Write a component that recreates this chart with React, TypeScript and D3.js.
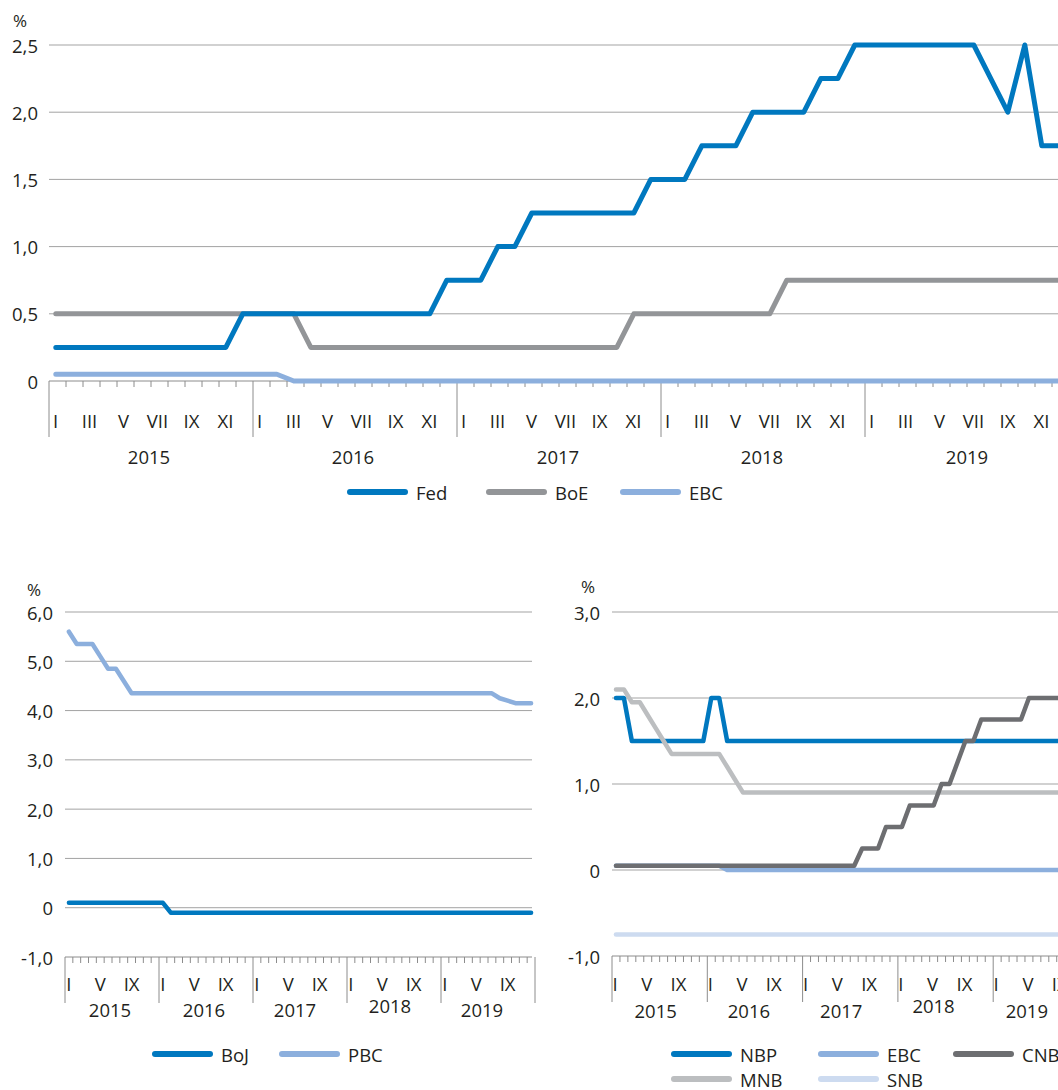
import React from "react";
import * as d3 from "d3";

// ---------- DATA ----------
const years = ["2015", "2016", "2017", "2018", "2019"];
const topMonthLabels = ["I", "", "III", "", "V", "", "VII", "", "IX", "", "XI", ""];
const smallMonthLabels = ["I", "", "", "", "V", "", "", "", "IX", "", "", ""];

const topTicks = [0, 0.5, 1.0, 1.5, 2.0, 2.5];
const leftTicks = [-1, 0, 1, 2, 3, 4, 5, 6];
const rightTicks = [-1, 0, 1, 2, 3];

// monthly values, I 2015 - XII 2019
const fed = [
  0.25, 0.25, 0.25, 0.25, 0.25, 0.25, 0.25, 0.25, 0.25, 0.25, 0.25, 0.5,
  0.5, 0.5, 0.5, 0.5, 0.5, 0.5, 0.5, 0.5, 0.5, 0.5, 0.5, 0.75,
  0.75, 0.75, 1.0, 1.0, 1.25, 1.25, 1.25, 1.25, 1.25, 1.25, 1.25, 1.5,
  1.5, 1.5, 1.75, 1.75, 1.75, 2.0, 2.0, 2.0, 2.0, 2.25, 2.25, 2.5,
  2.5, 2.5, 2.5, 2.5, 2.5, 2.5, 2.5, 2.25, 2.0, 2.5, 1.75, 1.75,
];
const boe = [
  0.5, 0.5, 0.5, 0.5, 0.5, 0.5, 0.5, 0.5, 0.5, 0.5, 0.5, 0.5,
  0.5, 0.5, 0.5, 0.25, 0.25, 0.25, 0.25, 0.25, 0.25, 0.25, 0.25, 0.25,
  0.25, 0.25, 0.25, 0.25, 0.25, 0.25, 0.25, 0.25, 0.25, 0.25, 0.5, 0.5,
  0.5, 0.5, 0.5, 0.5, 0.5, 0.5, 0.5, 0.75, 0.75, 0.75, 0.75, 0.75,
  0.75, 0.75, 0.75, 0.75, 0.75, 0.75, 0.75, 0.75, 0.75, 0.75, 0.75, 0.75,
];
const ebc = [
  0.05, 0.05, 0.05, 0.05, 0.05, 0.05, 0.05, 0.05, 0.05, 0.05, 0.05, 0.05,
  0.05, 0.05, 0, 0, 0, 0, 0, 0, 0, 0, 0, 0,
  0, 0, 0, 0, 0, 0, 0, 0, 0, 0, 0, 0,
  0, 0, 0, 0, 0, 0, 0, 0, 0, 0, 0, 0,
  0, 0, 0, 0, 0, 0, 0, 0, 0, 0, 0, 0,
];
const boj = [
  0.1, 0.1, 0.1, 0.1, 0.1, 0.1, 0.1, 0.1, 0.1, 0.1, 0.1, 0.1,
  0.1, -0.1, -0.1, -0.1, -0.1, -0.1, -0.1, -0.1, -0.1, -0.1, -0.1, -0.1,
  -0.1, -0.1, -0.1, -0.1, -0.1, -0.1, -0.1, -0.1, -0.1, -0.1, -0.1, -0.1,
  -0.1, -0.1, -0.1, -0.1, -0.1, -0.1, -0.1, -0.1, -0.1, -0.1, -0.1, -0.1,
  -0.1, -0.1, -0.1, -0.1, -0.1, -0.1, -0.1, -0.1, -0.1, -0.1, -0.1, -0.1,
];
const pbc = [
  5.6, 5.35, 5.35, 5.35, 5.1, 4.85, 4.85, 4.6, 4.35, 4.35, 4.35, 4.35,
  4.35, 4.35, 4.35, 4.35, 4.35, 4.35, 4.35, 4.35, 4.35, 4.35, 4.35, 4.35,
  4.35, 4.35, 4.35, 4.35, 4.35, 4.35, 4.35, 4.35, 4.35, 4.35, 4.35, 4.35,
  4.35, 4.35, 4.35, 4.35, 4.35, 4.35, 4.35, 4.35, 4.35, 4.35, 4.35, 4.35,
  4.35, 4.35, 4.35, 4.35, 4.35, 4.35, 4.35, 4.25, 4.2, 4.15, 4.15, 4.15,
];
const nbp = [
  2.0, 2.0, 1.5, 1.5, 1.5, 1.5, 1.5, 1.5, 1.5, 1.5, 1.5, 1.5,
  2.0, 2.0, 1.5, 1.5, 1.5, 1.5, 1.5, 1.5, 1.5, 1.5, 1.5, 1.5,
  1.5, 1.5, 1.5, 1.5, 1.5, 1.5, 1.5, 1.5, 1.5, 1.5, 1.5, 1.5,
  1.5, 1.5, 1.5, 1.5, 1.5, 1.5, 1.5, 1.5, 1.5, 1.5, 1.5, 1.5,
  1.5, 1.5, 1.5, 1.5, 1.5, 1.5, 1.5, 1.5, 1.5, 1.5, 1.5, 1.5,
];
const ebc2 = [
  0.05, 0.05, 0.05, 0.05, 0.05, 0.05, 0.05, 0.05, 0.05, 0.05, 0.05, 0.05,
  0.05, 0.05, 0, 0, 0, 0, 0, 0, 0, 0, 0, 0,
  0, 0, 0, 0, 0, 0, 0, 0, 0, 0, 0, 0,
  0, 0, 0, 0, 0, 0, 0, 0, 0, 0, 0, 0,
  0, 0, 0, 0, 0, 0, 0, 0, 0, 0, 0, 0,
];
const cnb = [
  0.05, 0.05, 0.05, 0.05, 0.05, 0.05, 0.05, 0.05, 0.05, 0.05, 0.05, 0.05,
  0.05, 0.05, 0.05, 0.05, 0.05, 0.05, 0.05, 0.05, 0.05, 0.05, 0.05, 0.05,
  0.05, 0.05, 0.05, 0.05, 0.05, 0.05, 0.05, 0.25, 0.25, 0.25, 0.5, 0.5,
  0.5, 0.75, 0.75, 0.75, 0.75, 1.0, 1.0, 1.25, 1.5, 1.5, 1.75, 1.75,
  1.75, 1.75, 1.75, 1.75, 2.0, 2.0, 2.0, 2.0, 2.0, 2.0, 2.0, 2.0,
];
const mnb = [
  2.1, 2.1, 1.95, 1.95, 1.8, 1.65, 1.5, 1.35, 1.35, 1.35, 1.35, 1.35,
  1.35, 1.35, 1.2, 1.05, 0.9, 0.9, 0.9, 0.9, 0.9, 0.9, 0.9, 0.9,
  0.9, 0.9, 0.9, 0.9, 0.9, 0.9, 0.9, 0.9, 0.9, 0.9, 0.9, 0.9,
  0.9, 0.9, 0.9, 0.9, 0.9, 0.9, 0.9, 0.9, 0.9, 0.9, 0.9, 0.9,
  0.9, 0.9, 0.9, 0.9, 0.9, 0.9, 0.9, 0.9, 0.9, 0.9, 0.9, 0.9,
];
const snb = [
  -0.75, -0.75, -0.75, -0.75, -0.75, -0.75, -0.75, -0.75, -0.75, -0.75, -0.75, -0.75,
  -0.75, -0.75, -0.75, -0.75, -0.75, -0.75, -0.75, -0.75, -0.75, -0.75, -0.75, -0.75,
  -0.75, -0.75, -0.75, -0.75, -0.75, -0.75, -0.75, -0.75, -0.75, -0.75, -0.75, -0.75,
  -0.75, -0.75, -0.75, -0.75, -0.75, -0.75, -0.75, -0.75, -0.75, -0.75, -0.75, -0.75,
  -0.75, -0.75, -0.75, -0.75, -0.75, -0.75, -0.75, -0.75, -0.75, -0.75, -0.75, -0.75,
];

// ---------- STYLE ----------
const C = {
  blue: "#0078bf",
  grey: "#939598",
  light: "#8cafdd",
  dark: "#6d6e71",
  lgrey: "#bcbec0",
  pale: "#cddbf0",
  grid: "#a3a3a3",
  axis: "#8c8c8c",
  text: "#231f20",
};
const FONT = "'Open Sans', 'Noto Sans', sans-serif";

const fmt = (v: number) =>
  v === 0 ? "0" : d3.format(".1f")(v).replace(".", ",").replace("\u2212", "-");

type Series = { name: string; values: number[]; color: string; width: number };

function Panel(props: {
  x0: number; x1: number; gridRight: number;
  yDomain: [number, number]; yRange: [number, number];
  ticks: number[]; labelX: number; pct: [number, number];
  axisVal: number; minorLen: number; majorLen: number;
  monthLabels: string[]; monthY: number; yearY: number; yearYOverride?: Record<number, number>;
  pointOffset: number; labelShift: number; yearShift: number[]; series: Series[];
}) {
  const p = props;
  const x = d3.scaleLinear().domain([0, 60]).range([p.x0, p.x1]);
  const y = d3.scaleLinear().domain(p.yDomain).range(p.yRange);
  const line = d3
    .line<number>()
    .x((_, i) => x(i + p.pointOffset))
    .y((d) => y(d))
    .curve(d3.curveLinear);
  const ay = y(p.axisVal);
  return (
    <g>
      <text x={p.pct[0]} y={p.pct[1]} fontSize={17} textAnchor="middle" dominantBaseline="central" fill={C.text}>%</text>
      {p.ticks.map((t) => (
        <g key={t}>
          {t !== p.axisVal && (
            <line x1={p.x0} x2={p.gridRight} y1={y(t)} y2={y(t)} stroke={C.grid} strokeWidth={1} />
          )}
          <text x={p.labelX} y={y(t)} fontSize={18.5} textAnchor="end" dominantBaseline="central" fill={C.text}>
            {fmt(t)}
          </text>
        </g>
      ))}
      {d3.range(61).map((m) => (
        <line key={m} x1={x(m)} x2={x(m)} y1={ay} y2={ay + (m % 12 === 0 ? p.majorLen : p.minorLen)} stroke={C.axis} strokeWidth={1} />
      ))}
      <line x1={p.x0} x2={p.gridRight} y1={ay} y2={ay} stroke={C.axis} strokeWidth={1} />
      {d3.range(60).map((m) =>
        p.monthLabels[m % 12] ? (
          <text key={"m" + m} x={x(m + 0.5) + p.labelShift} y={p.monthY} fontSize={18.5} textAnchor="middle" dominantBaseline="central" fill={C.text}>
            {p.monthLabels[m % 12]}
          </text>
        ) : null
      )}
      {years.map((yr, i) => (
        <text key={yr} x={x(i * 12 + 6) + p.yearShift[i]} y={p.yearYOverride && p.yearYOverride[i] ? p.yearYOverride[i] : p.yearY} fontSize={18.5} textAnchor="middle" dominantBaseline="central" fill={C.text}>
          {yr}
        </text>
      ))}
      {p.series.map((s) => (
        <path key={s.name} d={line(s.values) || ""} fill="none" stroke={s.color} strokeWidth={s.width} strokeLinejoin="round" strokeLinecap="round" />
      ))}
    </g>
  );
}

function Legend({ items }: { items: { name: string; color: string; x: number; y: number }[] }) {
  return (
    <g>
      {items.map((it) => (
        <g key={it.name + it.x + it.y}>
          <line x1={it.x} x2={it.x + 55} y1={it.y} y2={it.y} stroke={it.color} strokeWidth={6} strokeLinecap="round" />
          <text x={it.x + 66} y={it.y} fontSize={18.5} dominantBaseline="central" fill={C.text}>{it.name}</text>
        </g>
      ))}
    </g>
  );
}

export default function App() {
  return (
    <svg width={1058} height={1090} style={{ position: "absolute", left: 0, top: 0, display: "block", fontFamily: FONT, background: "#fff" }}>
      <rect width={1058} height={1090} fill="#fff" />
      <Panel
        x0={49} x1={1069} gridRight={1058}
        yDomain={[0, 2.5]} yRange={[381, 45]} ticks={topTicks} labelX={38} pct={[20, 20]}
        axisVal={0} minorLen={6} majorLen={56}
        monthLabels={topMonthLabels} monthY={420} yearY={456}
        pointOffset={0.4} labelShift={-2} yearShift={[-2, -2, -1, -1, 0]}
        series={[
          { name: "EBC", values: ebc, color: C.light, width: 5 },
          { name: "BoE", values: boe, color: C.grey, width: 5 },
          { name: "Fed", values: fed, color: C.blue, width: 5 },
        ]}
      />
      <Legend items={[
        { name: "Fed", color: C.blue, x: 350, y: 492 },
        { name: "BoE", color: C.grey, x: 489, y: 492 },
        { name: "EBC", color: C.light, x: 623, y: 492 },
      ]} />

      <Panel
        x0={65} x1={535} gridRight={532}
        yDomain={[-1, 6]} yRange={[957, 612]} ticks={leftTicks} labelX={53} pct={[34, 589]}
        axisVal={-1} minorLen={6} majorLen={46}
        monthLabels={smallMonthLabels} monthY={983} yearY={1009} yearYOverride={{ 3: 1005 }}
        pointOffset={0.5} labelShift={0} yearShift={[-2, -2, -5, -4, -6]}
        series={[
          { name: "BoJ", values: boj, color: C.blue, width: 4.5 },
          { name: "PBC", values: pbc, color: C.light, width: 4.5 },
        ]}
      />
      <Legend items={[
        { name: "BoJ", color: C.blue, x: 155, y: 1054 },
        { name: "PBC", color: C.light, x: 282, y: 1054 },
      ]} />

      <Panel
        x0={612} x1={1088.5} gridRight={1058}
        yDomain={[-1, 3]} yRange={[956, 612]} ticks={rightTicks} labelX={600} pct={[588, 586]}
        axisVal={-1} minorLen={6} majorLen={46}
        monthLabels={smallMonthLabels} monthY={983} yearY={1010} yearYOverride={{ 3: 1005 }}
        pointOffset={0.5} labelShift={-1} yearShift={[-4, -6, -9, -12, -14]}
        series={[
          { name: "NBP", values: nbp, color: C.blue, width: 4.5 },
          { name: "EBC", values: ebc2, color: C.light, width: 4.5 },
          { name: "MNB", values: mnb, color: C.lgrey, width: 4.5 },
          { name: "CNB", values: cnb, color: C.dark, width: 4.5 },
          { name: "SNB", values: snb, color: C.pale, width: 4.5 },
        ]}
      />
      <Legend items={[
        { name: "NBP", color: C.blue, x: 674, y: 1054 },
        { name: "EBC", color: C.light, x: 821, y: 1054 },
        { name: "CNB", color: C.dark, x: 956, y: 1054 },
        { name: "MNB", color: C.lgrey, x: 674, y: 1079 },
        { name: "SNB", color: C.pale, x: 821, y: 1079 },
      ]} />
    </svg>
  );
}
